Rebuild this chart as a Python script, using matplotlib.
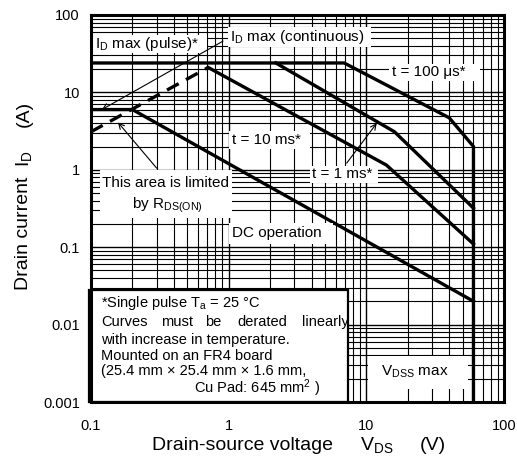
import matplotlib
matplotlib.use("Agg")
import matplotlib.pyplot as plt
from matplotlib.patches import Rectangle
from matplotlib.ticker import LogLocator, NullFormatter

plt.rcParams['font.family'] = ['Liberation Sans', 'DejaVu Sans']

# SOA boundaries, drain-source voltage (V) vs drain current (A)
v_100us = [0.1, 6.9, 40, 60, 60]
i_100us = [24, 24, 4.7, 2.0, 0.001]
v_1ms = [2.2, 16, 60]
i_1ms = [24, 3.1, 0.32]
v_10ms = [0.71, 14, 60]
i_10ms = [21, 1.15, 0.11]
v_dc = [0.1, 0.2, 60]
i_dc = [6, 6, 0.02]
v_rds = [0.1, 0.71]
i_rds = [3.1, 21]

x_ticks = [0.1, 1, 10, 100]
x_labels = ['0.1', '1', '10', '100']
y_ticks = [0.001, 0.01, 0.1, 1, 10, 100]
y_labels = ['0.001', '0.01', '0.1', '1', '10', '100']

W, H = 517, 469
fig = plt.figure(figsize=(W / 100, H / 100), dpi=100)
ax = fig.add_axes([91 / W, 1 - 402 / H, 413 / W, 387 / H])

ax.set_xscale('log')
ax.set_yscale('log')
ax.set_xlim(0.1, 100)
ax.set_ylim(0.001, 100)
ax.set_xticks(x_ticks)
ax.set_xticklabels(x_labels)
ax.set_yticks(y_ticks)
ax.set_yticklabels(y_labels)
ax.xaxis.set_minor_locator(LogLocator(base=10, subs=range(2, 10)))
ax.yaxis.set_minor_locator(LogLocator(base=10, subs=range(2, 10)))
ax.xaxis.set_minor_formatter(NullFormatter())
ax.yaxis.set_minor_formatter(NullFormatter())
ax.tick_params(which='both', length=0, labelsize=10.5)
ax.tick_params(axis='x', pad=12)
ax.tick_params(axis='y', pad=8)
ax.set_axisbelow(True)
ax.grid(which='major', color='black', lw=1.0)
ax.grid(which='minor', color='black', lw=0.8)
for s in ax.spines.values():
    s.set_linewidth(2.2)
    s.set_zorder(5)

lw = 2.4
ax.plot(v_100us, i_100us, color='black', lw=lw, solid_joinstyle='miter')
ax.plot(v_1ms, i_1ms, color='black', lw=lw, solid_joinstyle='miter')
ax.plot(v_10ms, i_10ms, color='black', lw=lw, solid_joinstyle='miter')
ax.plot(v_dc, i_dc, color='black', lw=lw, solid_joinstyle='miter')
ax.plot(v_rds, i_rds, color='black', lw=lw, dashes=(4, 2.5))


def fpx(x, y):
    return x / W, 1 - y / H


def blank(x0, y0, x1, y1, edge=False):
    ax.add_patch(Rectangle(fpx(x0, y1), (x1 - x0) / W, (y1 - y0) / H,
                           transform=fig.transFigure, clip_on=False,
                           facecolor='white',
                           edgecolor='black' if edge else 'none',
                           lw=1.6, zorder=3))


def label(x, y, s, size=11, ha='left', **kw):
    ax.text(*fpx(x, y), s, transform=fig.transFigure, fontsize=size,
            ha=ha, va='center', zorder=4, **kw)


# curve labels
blank(93, 35, 207, 53)
label(95, 44, r'$\mathregular{I_D}$ max (pulse)*')
blank(228, 27, 371, 47)
label(230, 37, r'$\mathregular{I_D}$ max (continuous)')
blank(389, 64, 480, 81)
label(392, 72, r't = 100 μs*')
blank(229, 131, 310, 149)
label(232, 140, 't = 10 ms*')
blank(310, 166, 378, 183)
label(312, 174, 't = 1 ms*')
blank(229, 223, 333, 244)
label(232, 233, 'DC operation')
blank(100, 170, 232, 218)
label(166, 183, 'This area is limited', ha='center')
label(167, 205, r'by $\mathregular{R_{DS(ON)}}$', ha='center')
blank(368, 356, 468, 389)
label(415, 372, r'$\mathregular{V_{DSS}}$ max', ha='center')

# arrows pointing at the limit lines
arrow = dict(arrowstyle='->', lw=0.8, color='black', shrinkA=0, shrinkB=0,
             mutation_scale=10)
ax.annotate('', xy=(0.12, 6.0), xytext=(0.91, 46), arrowprops=arrow, zorder=4)
ax.annotate('', xy=(0.157, 4.1), xytext=(0.30, 1.05), arrowprops=arrow, zorder=4)
ax.annotate('', xy=(11.9, 4.0), xytext=(7.2, 1.22), arrowprops=arrow, zorder=4)

# notes box
blank(89, 290, 348, 402, edge=True)
note = 10.5
label(101, 303, r'*Single pulse $\mathregular{T_a}$ = 25 °C', size=note)
for wx, word in [(101, 'Curves'), (161, 'must'), (205, 'be'),
                 (237, 'derated'), (302, 'linearly')]:
    label(wx, 322, word, size=note)
label(101, 340, 'with increase in temperature.', size=note)
label(101, 356, 'Mounted on an FR4 board', size=note, )
label(101, 371, '(25.4 mm × 25.4 mm × 1.6 mm,', size=note)
label(320, 388, r'Cu Pad: 645 mm$\mathregular{^2}$ )', size=note, ha='right')

# axis titles
fig.text(*fpx(152, 445), 'Drain-source voltage', fontsize=14, va='center')
fig.text(*fpx(360, 445), r'$\mathregular{V_{DS}}$', fontsize=14, va='center')
fig.text(*fpx(420, 445), '(V)', fontsize=14, va='center')
fig.text(*fpx(24, 290), 'Drain current', fontsize=14, rotation=90,
         ha='center', va='bottom')
fig.text(*fpx(24, 167), r'$\mathregular{I_D}$', fontsize=14, rotation=90,
         ha='center', va='bottom')
fig.text(*fpx(24, 127), '(A)', fontsize=14, rotation=90,
         ha='center', va='bottom')

fig.savefig('out.png', dpi=100, facecolor='white')
